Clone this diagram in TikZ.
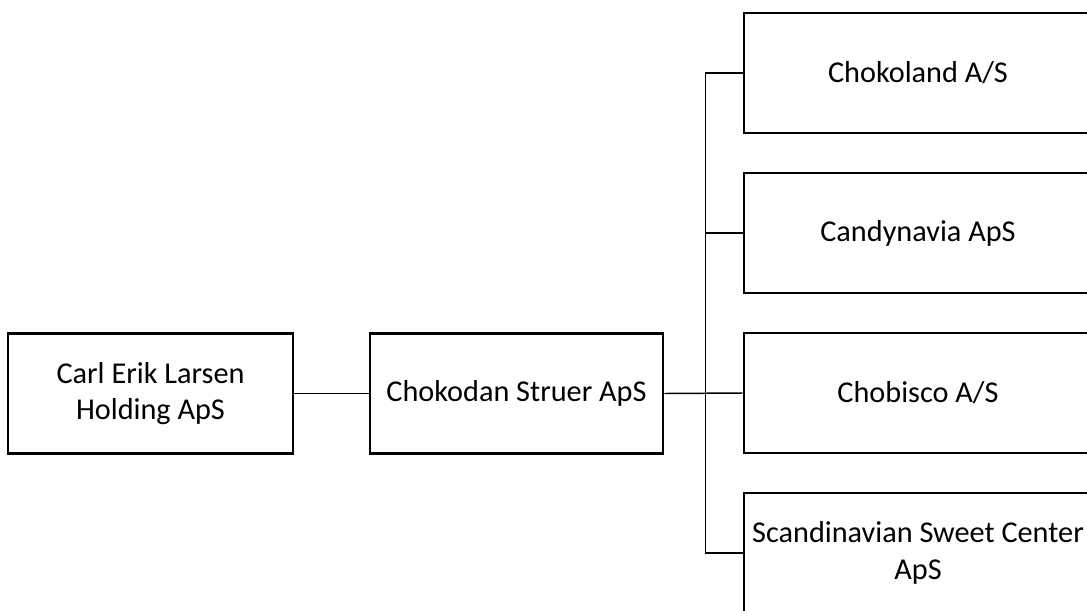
\documentclass[tikz,border=0pt]{standalone}
\usepackage{fontspec}
\setmainfont{Carlito}
\begin{document}
\begin{tikzpicture}[x=0.75pt,y=-0.75pt,
  orgbox/.style={draw=black, line width=2.2pt, fill=white, inner sep=0pt,
    minimum width=#1*0.75pt, minimum height=120*0.75pt, align=center,
    font=\fontsize{22.7pt}{27.6pt}\selectfont},
  orgbox/.default=285,
  link/.style={draw=black, line width=1.1pt}]
\useasboundingbox (0,0) rectangle (1087,610);
\clip (0,0) rectangle (1087,610);
\fill[white] (0,0) rectangle (1087,610);
\node[orgbox=285] (holding) at (150.5,393.5) {Carl Erik Larsen\\Holding ApS};
\node[orgbox=293] (struer) at (516.5,393.5) {Chokodan Struer ApS};
\node[orgbox=348] (chokoland) at (918,73) {Chokoland A/S};
\node[orgbox=348] (candy) at (918,233) {Candynavia ApS};
\node[orgbox=348] (chobisco) at (918,393) {Chobisco A/S};
\node[orgbox=348] (scand) at (918,553) {Scandinavian Sweet Center\\ApS};
\coordinate (bus) at (705.5,0);
\draw[link] (holding.east) -- (struer.east -| struer.west);
\draw[link] (struer.east) -- (chobisco.west);
\draw[link] (chokoland.west) -- (chokoland.west -| bus) -- (scand.west -| bus) -- (scand.west);
\draw[link] (candy.west -| bus) -- (candy.west);
\end{tikzpicture}
\end{document}
